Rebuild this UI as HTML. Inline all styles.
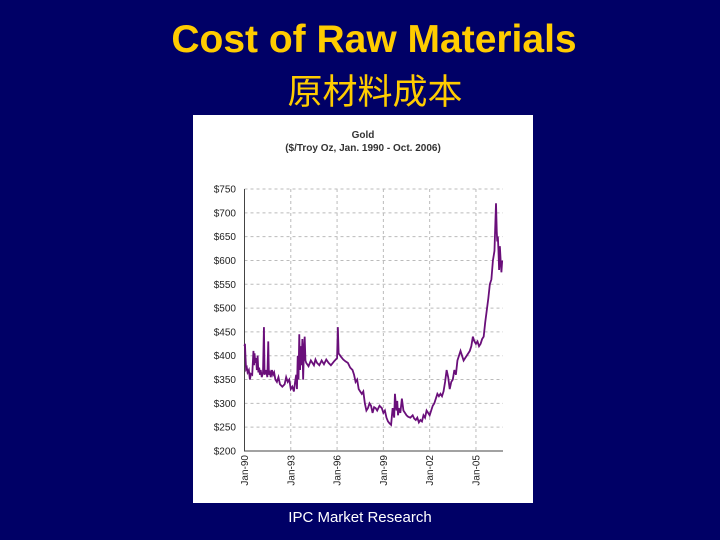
<!DOCTYPE html>
<html><head><meta charset="utf-8"><style>
body{margin:0;width:720px;height:540px;background:#000066;overflow:hidden;position:relative;font-family:"Liberation Sans",sans-serif}
#t1{position:absolute;left:0;width:748px;top:18px;text-align:center;color:#ffcc00;font-weight:bold;font-size:39px}
#t2{position:absolute;left:0;width:750px;top:64px;text-align:center;color:#ffcc00;font-size:35px;font-family:"Liberation Sans","Noto Sans CJK SC",sans-serif}
#ft{position:absolute;left:0;width:720px;top:509px;text-align:center;color:#fff;font-size:15px}
svg{position:absolute;left:193px;top:115px}
</style></head><body>
<div id="t1">Cost of Raw Materials</div>
<div id="t2">原材料成本</div>
<svg id="chart" width="340" height="388"></svg>
<div id="ft">IPC Market Research</div>
<script>
const dates=[1990.0,1990.03,1990.06,1990.1,1990.15,1990.2,1990.28,1990.35,1990.42,1990.5,1990.58,1990.62,1990.65,1990.7,1990.75,1990.8,1990.85,1990.9,1990.95,1991.0,1991.05,1991.12,1991.2,1991.26,1991.3,1991.4,1991.48,1991.54,1991.58,1991.65,1991.7,1991.78,1991.85,1991.92,1992.0,1992.1,1992.2,1992.3,1992.45,1992.6,1992.7,1992.8,1992.9,1993.0,1993.1,1993.2,1993.28,1993.35,1993.4,1993.45,1993.5,1993.55,1993.6,1993.65,1993.7,1993.75,1993.8,1993.85,1993.9,1993.95,1994.0,1994.15,1994.3,1994.4,1994.5,1994.6,1994.7,1994.85,1995.0,1995.15,1995.3,1995.45,1995.6,1995.8,1996.0,1996.05,1996.1,1996.25,1996.4,1996.55,1996.7,1996.85,1997.0,1997.1,1997.2,1997.3,1997.4,1997.5,1997.6,1997.7,1997.8,1997.9,1998.0,1998.1,1998.2,1998.3,1998.4,1998.5,1998.6,1998.75,1998.9,1999.0,1999.1,1999.2,1999.3,1999.4,1999.5,1999.6,1999.7,1999.75,1999.8,1999.85,1999.9,1999.95,2000.0,2000.1,2000.2,2000.3,2000.4,2000.5,2000.6,2000.75,2000.9,2001.0,2001.1,2001.2,2001.3,2001.4,2001.5,2001.6,2001.7,2001.8,2001.9,2002.0,2002.1,2002.2,2002.3,2002.4,2002.5,2002.6,2002.7,2002.8,2002.9,2003.0,2003.1,2003.2,2003.3,2003.4,2003.5,2003.6,2003.7,2003.8,2003.9,2004.0,2004.1,2004.2,2004.3,2004.4,2004.5,2004.6,2004.7,2004.8,2004.9,2005.0,2005.1,2005.2,2005.3,2005.4,2005.5,2005.6,2005.7,2005.8,2005.9,2006.0,2006.1,2006.2,2006.3,2006.35,2006.38,2006.42,2006.46,2006.5,2006.55,2006.6,2006.65,2006.7,2006.75];
const prices=[420,425,400,372,375,365,370,350,362,360,410,380,405,385,395,370,400,365,375,360,370,355,365,460,360,370,355,430,360,365,355,370,360,365,350,345,355,340,335,340,355,345,350,330,335,325,345,360,330,400,350,445,370,420,380,435,350,410,440,390,385,378,390,385,380,392,385,380,390,382,392,385,380,388,395,460,405,398,392,388,385,375,370,360,345,350,330,325,320,325,300,285,290,300,295,280,292,290,285,295,290,280,285,270,262,258,255,290,270,320,300,285,305,275,290,280,310,285,280,275,272,270,275,268,265,270,260,265,262,275,270,285,280,275,285,295,300,310,320,315,320,315,325,345,370,355,330,345,350,370,360,390,400,410,400,390,395,400,405,410,420,440,430,425,430,420,425,435,440,470,495,520,550,560,600,620,720,660,640,650,620,580,630,600,575,600];
const yTicks=[200,250,300,350,400,450,500,550,600,650,700,750];
const xTickYears=[1990,1993,1996,1999,2002,2005];
const xTickLabels=["Jan-90","Jan-93","Jan-96","Jan-99","Jan-02","Jan-05"];
const NS="http://www.w3.org/2000/svg",svg=document.getElementById('chart');
const x=v=>51.5+(v-1990)*15.43, y=v=>336-(v-200)*262/550;
function mk(t,a,p){const e=document.createElementNS(NS,t);for(const k in a)e.setAttribute(k,a[k]);(p||svg).appendChild(e);return e;}
const bg=mk('rect',{x:0,y:0,width:340,height:388,fill:'#fff'});


const tt=mk('text',{x:170,y:23,'text-anchor':'middle','font-size':10,'font-weight':'bold',fill:'#333'});tt.textContent='Gold';


const ts=mk('text',{x:170,y:36,'text-anchor':'middle','font-size':10,'font-weight':'bold',fill:'#333'});ts.textContent='($/Troy Oz, Jan. 1990 - Oct. 2006)';


yTicks.forEach(v=>{
  if(v>200){const g=mk('line',{x1:51.5,x2:310,y1:y(v),y2:y(v),stroke:'#bbb','stroke-dasharray':'3,3'});
  
  }
  const t=mk('text',{x:43,y:y(v)+3.5,'text-anchor':'end','font-size':10,fill:'#222'});t.textContent='$'+v;
  
  
});
xTickYears.forEach((v,i)=>{
  if(i>0){const g=mk('line',{x1:x(v),x2:x(v),y1:y(750),y2:y(200),stroke:'#bbb','stroke-dasharray':'3,3'});
  
  }
  const t=mk('text',{x:0,y:0,'text-anchor':'end','font-size':10,fill:'#222',transform:`translate(${x(v)+3.5},340) rotate(-90)`});t.textContent=xTickLabels[i];
  
  
});
const ax=mk('path',{d:`M51.5 ${y(750)} V${y(200)} H310`,stroke:'#444',fill:'none'});


const ln=mk('polyline',{points:dates.map((d,i)=>x(d)+','+y(prices[i])).join(' '),fill:'none',stroke:'#6a0f7a','stroke-width':1.8});


</script>
</body></html>
